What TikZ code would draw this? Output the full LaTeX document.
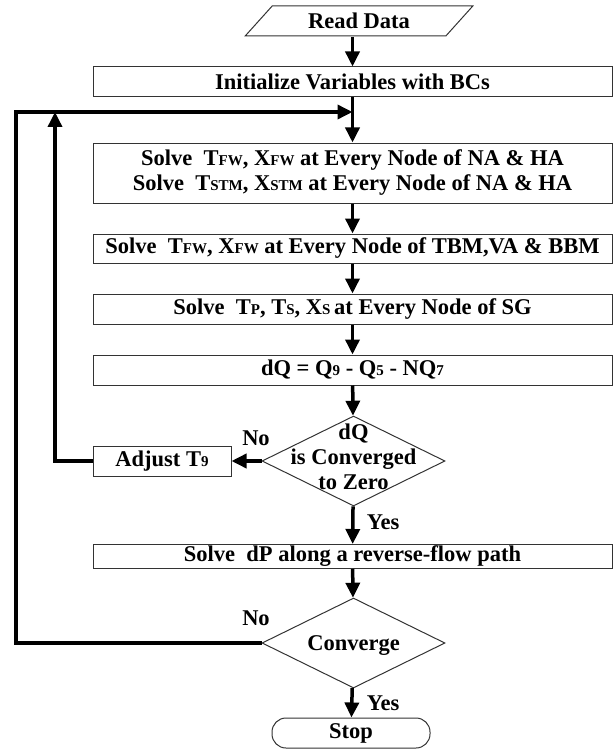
\documentclass[tikz,border=0pt]{standalone}
\usepackage{fontspec}
\setmainfont{Liberation Serif}
\usetikzlibrary{calc,shapes.geometric,arrows.meta}
\newcommand*\sm[1]{{\fontsize{15}{15}\selectfont #1}}
\newcommand*\tight[2][5pt]{\smash{\makebox[0pt]{\raisebox{-#1}{\begin{tabular}{@{}c@{}}#2\end{tabular}}}}}
\tikzset{flow/.cd,
         text/.style={font=\fontsize{22.5}{25}\selectfont\bfseries},
         box/.style={flow/text,draw=black!80,line width=1pt,rectangle,
                     minimum width=519pt,minimum height=30pt,inner sep=0pt},
         data/.style={flow/text,draw=black!80,line width=1pt,trapezium,
                      trapezium left angle=45,trapezium right angle=135,
                      trapezium stretches=true,minimum width=228pt,
                      minimum height=30pt,inner sep=0pt},
         decision/.style={flow/text,draw=black!80,line width=1pt,diamond,
                          minimum width=183pt,minimum height=90pt,
                          inner sep=0pt},
         terminal/.style={flow/text,draw=black!80,line width=1pt,rectangle,
                          rounded corners=14pt,minimum width=158pt,
                          minimum height=30pt,inner sep=0pt},
         arrow/.style={line width=3.5pt,-{Triangle[length=15pt,width=14pt]}}}

\begin{document}
\begin{tikzpicture}[x=1pt,y=-1pt]
\useasboundingbox (0,0) rectangle (615,749);
\node (read)[flow/data] at (359,21) {Read Data};
\node (init)[flow/box] at (352.5,82) {Initialize Variables with BCs};
\node (na)[flow/box,minimum height=60pt,align=center] at (352.5,173)
  {Solve\ \ T\sm{FW}, X\sm{FW} at Every Node of NA \& HA\\
   Solve\ \ T\sm{STM}, X\sm{STM} at Every Node of NA \& HA};
\node (tbm)[flow/box,minimum height=29pt] at (352.5,248.5)
  {Solve\ \ T\sm{FW}, X\sm{FW} at Every Node of TBM,VA \& BBM};
\node (sg)[flow/box] at (352.5,309) {Solve\ \ T\sm{P}, T\sm{S}, X\sm{S}\,at Every Node of SG};
\node (dq)[flow/box] at (352.5,370) {dQ = Q\sm{9} - Q\sm{5} - NQ\sm{7}};
\node (conv1)[flow/decision] at (353.5,461) {\tight[4pt]{dQ\\is Converged\\to Zero}};
\node (adj)[flow/box,minimum width=138pt] at (162,461) {Adjust T\sm{9}};
\node (dp)[flow/box,minimum height=24pt] at (352.5,556.5) {Solve\ \ dP along a reverse-flow path};
\node (conv2)[flow/decision] at (353.5,643) {\tight[8pt]{Converge}};
\node (stop)[flow/terminal] at (351,733) {Stop};
% branch labels
\node (no1)[flow/text] at (256,438) {No};
\node (yes1)[flow/text] at (383,522) {Yes};
\node (no2)[flow/text] at (256,618) {No};
\node (yes2)[flow/text] at (383,703) {Yes};
% loop corners
\coordinate (back) at (352.5,112);
\coordinate (outer) at (16,643);
\coordinate (inner) at (55,461);

\draw[flow/arrow] (init.north |- read.south) -- (init.north);
\draw[flow/arrow] (init) -- (na);
\draw[flow/arrow] (na) -- (tbm);
\draw[flow/arrow] (tbm) -- (sg);
\draw[flow/arrow] (sg) -- (dq);
\draw[flow/arrow] (dq) -- (conv1);
\draw[flow/arrow] (conv1) -- (adj);
\draw[flow/arrow] (conv1) -- (dp);
\draw[flow/arrow] (dp) -- (conv2);
\draw[flow/arrow] (conv2) -- (stop);
\draw[flow/arrow] (conv2.west) -- (outer) |- (back);
\draw[flow/arrow] (adj.west) -- (inner) -- (inner |- back);
\end{tikzpicture}
\end{document}
